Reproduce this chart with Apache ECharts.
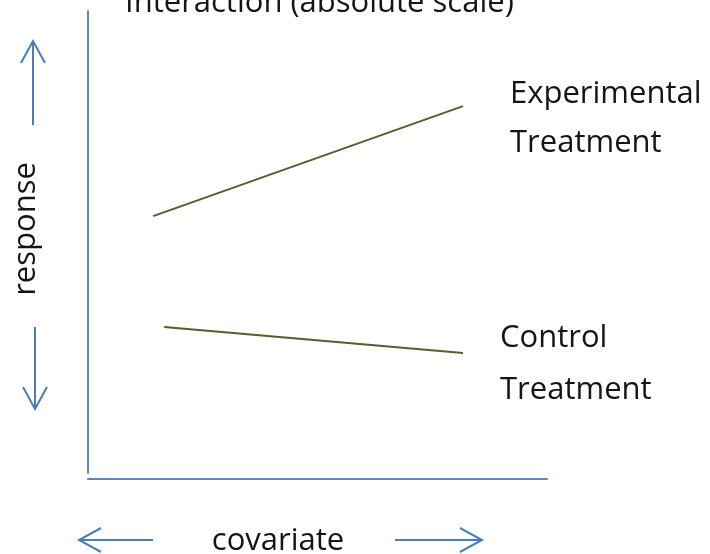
<!DOCTYPE html>
<html>
<head>
<meta charset="utf-8">
<script src="https://cdn.jsdelivr.net/npm/echarts@6/dist/echarts.min.js"></script>
<style>html,body{margin:0;padding:0;background:#fff}#c{width:710px;height:554px}</style>
</head>
<body>
<div id="c"></div>
<script>
// Data (arbitrary units: covariate 0-10, response 0-10)
const covariateExp = [1.42, 8.17];
const responseExp = [5.56, 7.94];
const covariateCtl = [1.66, 8.17];
const responseCtl = [3.16, 2.60];
const titleText = 'Interaction (absolute scale)';
const expLabel = ['Experimental', 'Treatment'];
const ctlLabel = ['Control', 'Treatment'];
const xName = 'covariate';
const yName = 'response';

const chart = echarts.init(document.getElementById('c'));
const FONT = '"Open Sans", sans-serif';
const FS = '31px ';
const TXT = '#151515';
const ARROW = '#4a7ebb';
const AXIS = '#5b87c5';
const LINE = '#4f6228';

function pairs(xs, ys) { return xs.map((x, i) => [x, ys[i]]); }
function text(t, x, y, align, rot) {
  return {
    type: 'text', x: x, y: y, rotation: rot || 0,
    style: { text: t, font: FS + FONT, fill: TXT, align: align || 'left', verticalAlign: 'middle' }
  };
}
function arrow(points, head) {
  return [
    { type: 'polyline', shape: { points: points }, style: { stroke: ARROW, lineWidth: 2, fill: null } },
    { type: 'polyline', shape: { points: head }, style: { stroke: ARROW, lineWidth: 2, fill: null } }
  ];
}

const graphics = [
  text(titleText, 125, 3.5),
  text(expLabel[0], 510, 94),
  text(expLabel[1], 510, 143),
  text(ctlLabel[0], 500, 338),
  text(ctlLabel[1], 500, 390),
  text(xName, 278, 541.5, 'center'),
  text(yName, 26, 229, 'center', Math.PI / 2)
]
.concat(arrow([[33, 125], [33, 41]], [[21, 63], [33, 41], [45, 63]]))
.concat(arrow([[35, 327], [35, 409]], [[23, 387], [35, 409], [47, 387]]))
.concat(arrow([[153, 540], [79, 540]], [[101, 528], [79, 540], [101, 552]]))
.concat(arrow([[395, 540], [482, 540]], [[460, 528], [482, 540], [460, 552]]));

chart.setOption({
  backgroundColor: '#fff',
  animation: false,
  grid: { left: 88, right: 163, top: 11, bottom: 81 },
  xAxis: {
    type: 'value', min: 0, max: 10, offset: 6,
    axisLine: { show: true, onZero: false, lineStyle: { color: AXIS, width: 2 } },
    axisTick: { show: false }, axisLabel: { show: false }, splitLine: { show: false }
  },
  yAxis: {
    type: 'value', min: 0, max: 10,
    axisLine: { show: true, onZero: false, lineStyle: { color: AXIS, width: 2 } },
    axisTick: { show: false }, axisLabel: { show: false }, splitLine: { show: false }
  },
  series: [
    { name: 'Experimental Treatment', type: 'line', data: pairs(covariateExp, responseExp), showSymbol: false,
      lineStyle: { color: LINE, width: 2 } },
    { name: 'Control Treatment', type: 'line', data: pairs(covariateCtl, responseCtl), showSymbol: false,
      lineStyle: { color: LINE, width: 2 } }
  ],
  graphic: graphics
});
</script>
</body>
</html>
